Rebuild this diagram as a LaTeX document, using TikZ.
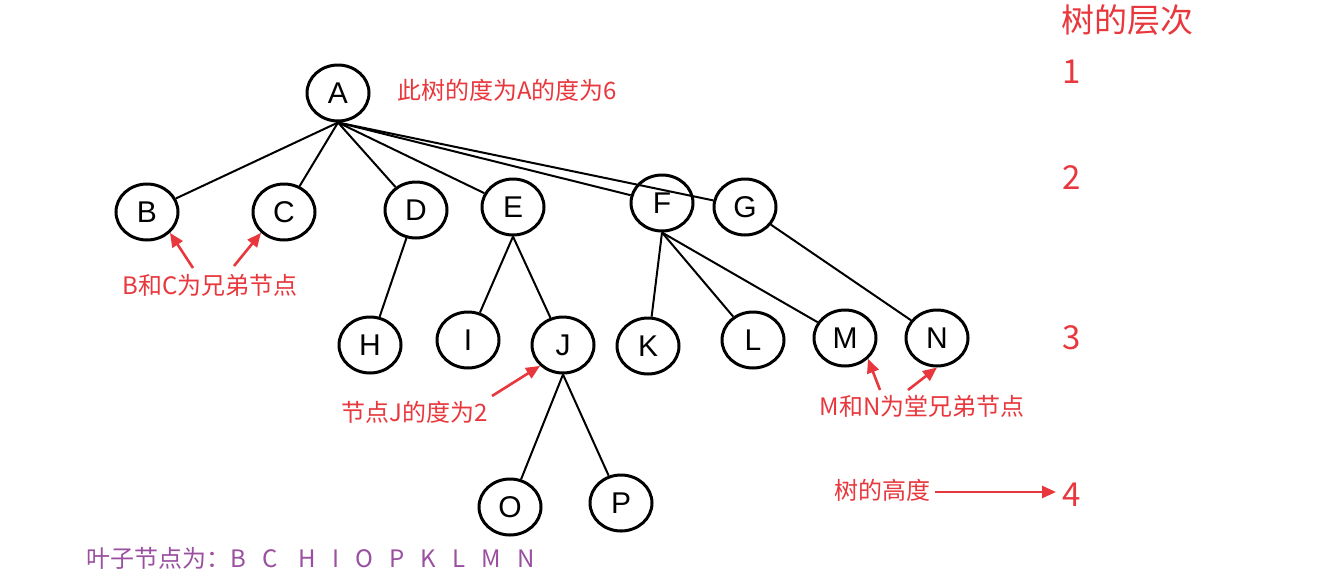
\documentclass[tikz,border=0pt]{standalone}
\usepackage{fontspec}
\setmainfont{Liberation Sans}
\newfontfamily\cjk{Noto Sans CJK SC}
\usetikzlibrary{shapes.geometric,arrows.meta}
\definecolor{rd}{HTML}{E8383D}
\definecolor{pp}{HTML}{9B4FA0}
\tikzset{
 tn/.style={ellipse,draw,line width=3pt,minimum width=62pt,minimum height=56pt,inner sep=0pt,font=\fontsize{30}{30}\selectfont},
 ed/.style={line width=2pt},
 lb/.style={text=rd,font=\cjk\fontsize{24}{24}\selectfont,inner sep=1pt},
 lv/.style={text=rd,font=\cjk\fontsize{33}{33}\selectfont,inner sep=1pt},
 ra/.style={draw=rd,line width=2.6pt,-{Triangle[length=14pt,width=12pt]}}
}
\begin{document}
\begin{tikzpicture}[x=1pt,y=-1pt]
\useasboundingbox (0,0) rectangle (1317,582);
\fill[white] (0,0) rectangle (1317,582);
\node[tn] (A) at (338,93) {A};
\node[tn] (B) at (147,212) {B};
\node[tn] (C) at (284,212) {C};
\node[tn] (D) at (416,210) {D};
\node[tn] (E) at (513,207) {E};
\node[tn] (F) at (662,203) {F};
\node[tn] (G) at (745,207) {G};
\node[tn] (H) at (370,345) {H};
\node[tn] (I) at (468,340) {I};
\node[tn] (J) at (563,345) {J};
\node[tn] (K) at (648,346) {K};
\node[tn] (L) at (753,340) {L};
\node[tn] (M) at (845,338) {M};
\node[tn] (N) at (937,338) {N};
\node[tn] (O) at (510,507) {O};
\node[tn] (P) at (621,503) {P};
\foreach \c in {B,C,D,E,F,G} \draw[ed] (A.south) -- (\c);
\draw[ed] (D) -- (H); \draw[ed] (E.south) -- (I); \draw[ed] (E.south) -- (J);
\foreach \c in {K,L,M} \draw[ed] (F.south) -- (\c);
\draw[ed] (G) -- (N);
\draw[ed] (J.south) -- (O); \draw[ed] (J.south) -- (P);
\node[lb] (t1) at (507,90) {此树的度为A的度为6};
\node[lv] (h0) at (1127,20) {树的层次};
\node[lv] (h1) at (1072,72) {1};
\node[lv] (h2) at (1072,178) {2};
\node[lv] (h3) at (1072,338) {3};
\node[lv] (h4) at (1072,495) {4};
\node[lb] (bc) at (210,285) {B和C为兄弟节点};
\coordinate (bc1) at (193,268); \coordinate (bc2) at (234,266);
\draw[ra] (bc1) -- (B.south east) ;
\draw[ra] (bc2) -- (C.south west);
\node[lb] (jd) at (415,412) {节点J的度为2};
\coordinate (jd1) at (492,396);
\draw[ra] (jd1) -- (J.south west);
\node[lb] (mn) at (922,406) {M和N为堂兄弟节点};
\coordinate (mn1) at (880,390); \coordinate (mn2) at (908,390);
\draw[ra] (mn1) -- (M.south east);
\draw[ra] (mn2) -- (N.south);
\node[lb] (ht) at (882,490) {树的高度};
\coordinate (ht1) at (935,492); \coordinate (ht2) at (1056,492);
\draw[ra] (ht1) -- (ht2);
\node[text=pp,font=\cjk\fontsize{24}{24}\selectfont,anchor=west,inner sep=0pt] (lf) at (86,558) {叶子节点为：B\ \ \ C\ \ \ \ H\ \ \ I\ \ \ O\ \ \ P\ \ \ K\ \ \ L\ \ \ M\ \ \ N};
\end{tikzpicture}
\end{document}
